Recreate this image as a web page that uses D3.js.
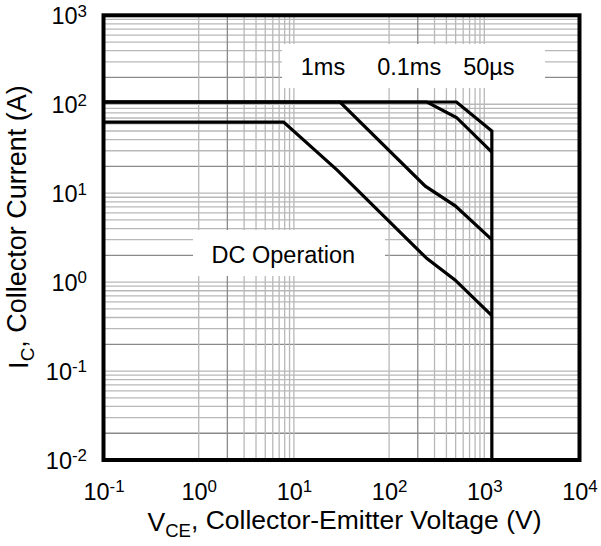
<!DOCTYPE html>
<html>
<head>
<meta charset="utf-8">
<script src="https://cdn.jsdelivr.net/npm/d3@7/dist/d3.min.js"></script>
<style>
  html, body { margin: 0; padding: 0; background: #fff; }
  svg { display: block; font-family: "Liberation Sans", Arial, Helvetica, sans-serif; }
</style>
</head>
<body>
<svg id="chart" width="601" height="546"></svg>
<script>
// Safe operating area: collector current vs collector-emitter voltage
const xDecades = [-1, 0, 1, 2, 3, 4];          // tick exponents, V_CE
const yDecades = [-2, -1, 0, 1, 2, 3];         // tick exponents, I_C
const xMinorDecades = [0, 2];                  // decades that carry minor vertical grid

const pulse1msV  = [0.1, 30.5, 240, 495, 1200];
const pulse1msI  = [106, 106, 12, 7.2, 3.0];
const pulse01msV = [0.1, 250, 510, 1200];
const pulse01msI = [106, 106, 71, 29];
const pulse50usV = [0.1, 510, 1200, 1200];
const pulse50usI = [106, 106, 50, 0.01];
const dcV        = [0.1, 7.8, 28.5, 248, 492, 1200];
const dcI        = [63, 63, 18.2, 1.85, 1.06, 0.42];

const curveLabels = ["1ms", "0.1ms", "50µs"];
const curveLabelV = [11.8, 75, 600];           // left edge of each label, in volts
const dcLabel = "DC Operation";

const svg = d3.select("#chart");
const plotL = 103.5, plotR = 579.5, plotT = 15.3, plotB = 460;

const x = d3.scaleLog().domain([0.1, 10000]).range([plotL, plotR]);
const y = d3.scaleLog().domain([0.01, 1000]).range([plotB, plotT]);

// grid
const grid = svg.append("g");
const hLines = [];
yDecades.slice(0, -1).forEach(e => {
  for (let m = 1; m <= 9; m++) hLines.push({ v: m * Math.pow(10, e), m });
});
grid.selectAll("line.h").data(hLines.filter(d => d.v > 0.011)).join("line")
  .attr("x1", plotL).attr("x2", plotR)
  .attr("y1", d => y(d.v)).attr("y2", d => y(d.v))
  .attr("stroke", d => d.m === 2 ? "#8a8a8a" : "#b8b8b8")
  .attr("stroke-width", 1.3);

const vLines = [];
xMinorDecades.forEach(e => {
  for (let m = 1; m <= 9; m++) vLines.push({ v: m * Math.pow(10, e), m });
});
[10, 1000].forEach(v => vLines.push({ v, m: 1 }));
grid.selectAll("line.v").data(vLines).join("line")
  .attr("y1", plotT).attr("y2", plotB)
  .attr("x1", d => x(d.v)).attr("x2", d => x(d.v))
  .attr("stroke", d => d.m === 2 ? "#8a8a8a" : "#b8b8b8")
  .attr("stroke-width", 1.3);

// label boxes cover the grid
svg.append("rect").attr("x", 282).attr("y", 44).attr("width", 263).attr("height", 44).attr("fill", "#fff");
svg.append("rect").attr("x", 193).attr("y", 230).attr("width", 192).attr("height", 46).attr("fill", "#fff");

// curves
const line = d3.line().x(d => x(d[0])).y(d => y(d[1]));
const curves = [
  [pulse1msV, pulse1msI],
  [pulse01msV, pulse01msI],
  [pulse50usV, pulse50usI],
  [dcV, dcI]
];
svg.append("g").selectAll("path").data(curves).join("path")
  .attr("d", c => line(d3.zip(c[0], c[1])))
  .attr("fill", "none").attr("stroke", "#000")
  .attr("stroke-width", 3.2).attr("stroke-linejoin", "miter");

// frame
svg.append("rect").attr("x", plotL).attr("y", plotT)
  .attr("width", plotR - plotL).attr("height", plotB - plotT)
  .attr("fill", "none").attr("stroke", "#000").attr("stroke-width", 4);

// labels in the plot
svg.append("g").selectAll("text").data(curveLabels).join("text")
  .attr("x", (d, i) => x(curveLabelV[i])).attr("y", 75)
  .attr("font-size", 23.5).text(d => d);
svg.append("text").attr("x", 211.5).attr("y", 262.5)
  .attr("font-size", 23.5).text(dcLabel);

// axes with power-of-ten labels
function powLabel(sel) {
  sel.each(function(e) {
    const t = d3.select(this).text(null);
    t.append("tspan").text("10");
    t.append("tspan").attr("dy", "-0.45em").attr("font-size", "0.72em").text(e);
  });
}
const xAxis = d3.axisBottom(d3.scaleLinear().domain([-1, 4]).range([plotL, plotR]))
  .tickValues(xDecades).tickSize(0).tickPadding(0);
const gx = svg.append("g").attr("transform", `translate(0,${plotB + 40})`).call(xAxis);
gx.select(".domain").remove();
gx.selectAll(".tick text").attr("font-size", 23.5).attr("fill", "#000")
  .attr("font-family", "Liberation Sans, Arial, sans-serif").attr("dy", 0).call(powLabel);

const yAxis = d3.axisLeft(d3.scaleLinear().domain([-2, 3]).range([plotB, plotT]))
  .tickValues(yDecades).tickSize(0).tickPadding(0);
const gy = svg.append("g").attr("transform", `translate(${plotL - 16.5},0)`).call(yAxis);
gy.select(".domain").remove();
gy.selectAll(".tick text").attr("font-size", 23.5).attr("fill", "#000")
  .attr("font-family", "Liberation Sans, Arial, sans-serif").attr("dy", "0.36em").call(powLabel);

// axis titles
const xt = svg.append("text").attr("x", 344.5).attr("y", 531).attr("text-anchor", "middle").attr("font-size", 26.5);
xt.append("tspan").text("V");
xt.append("tspan").attr("dy", "0.3em").attr("font-size", "0.7em").text("CE");
xt.append("tspan").attr("dy", "-0.3em").text(", Collector-Emitter Voltage (V)");

const yt = svg.append("text").attr("transform", "translate(28,227) rotate(-90)")
  .attr("text-anchor", "middle").attr("font-size", 27);
yt.append("tspan").text("I");
yt.append("tspan").attr("dy", "0.3em").attr("font-size", "0.7em").text("C");
yt.append("tspan").attr("dy", "-0.3em").text(", Collector Current (A)");
</script>
</body>
</html>
